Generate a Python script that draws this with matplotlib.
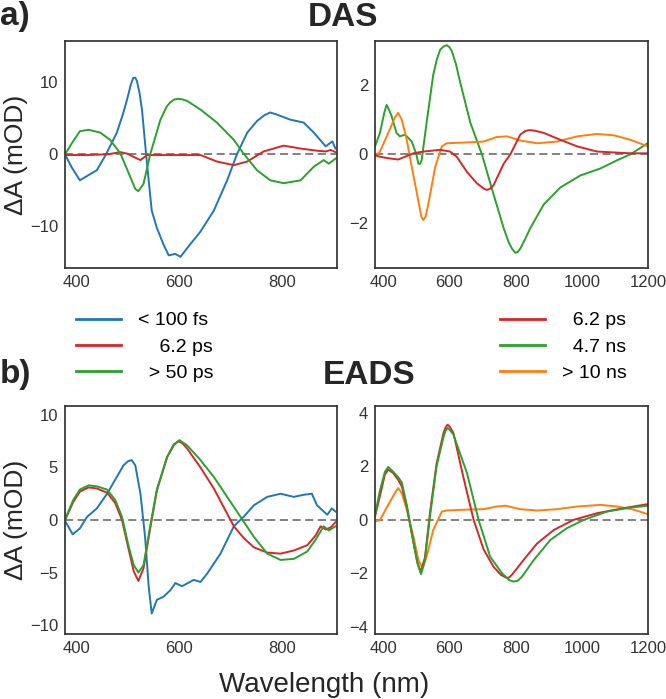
import matplotlib
matplotlib.use("Agg")
import matplotlib.pyplot as plt

plt.rcParams['font.family'] = ['Liberation Sans', 'DejaVu Sans']

BLUE = '#1f77b4'
RED = '#d62728'
GREEN = '#2ca02c'
ORANGE = '#ff7f0e'

# ---- a) DAS, visible range ----
das_fs_wl = [377, 390, 406, 420, 439, 457, 478, 490, 498, 505, 510, 514, 517, 522, 527, 535, 546,
             556, 569, 579, 592, 602, 615, 641, 667, 693, 712, 732, 751, 765, 777, 790, 816, 842,
             862, 885, 898, 904]
das_fs = [0.0, -1.8, -3.6, -3.0, -2.2, 0.0, 3.0, 5.6, 7.6, 9.6, 10.6, 10.6, 10.2, 8.6, 6.2, 0.0,
          -7.8, -10.2, -12.5, -14.0, -13.8, -14.2, -13.0, -10.7, -7.8, -3.6, 0.0, 3.0, 4.6, 5.4,
          5.8, 5.5, 4.8, 4.4, 3.0, 1.1, 1.8, 0.8]

das_ps_wl = [377, 420, 460, 485, 498, 512, 524, 537, 560, 600, 641, 673, 706, 732, 764, 803,
             836, 868, 885, 895, 904]
das_ps = [-0.1, -0.1, 0.0, 0.3, 0.1, -0.4, -0.8, -0.1, -0.1, -0.1, -0.1, -1.0, -1.5, -1.0, 0.4, 1.2,
          0.8, 0.5, 0.4, 0.6, 0.3]

das_50_wl = [377, 390, 406, 423, 446, 465, 485, 504, 514, 520, 530, 543, 563, 575, 582, 590, 598,
             606, 615, 641, 673, 706, 725, 751, 777, 803, 836, 862, 881, 891, 904]
das_50 = [0.0, 1.5, 3.2, 3.4, 3.0, 2.0, 0.1, -3.1, -4.8, -5.1, -4.1, 0.0, 4.8, 6.6, 7.2, 7.6, 7.7,
          7.6, 7.4, 6.2, 4.4, 2.0, 0.1, -2.2, -3.6, -4.0, -3.6, -1.7, -0.8, -1.3, -0.6]

# ---- a) DAS, extended range ----
dasx_ps_wl = [375, 390, 420, 445, 466, 491, 521, 572, 602, 622, 653, 683, 705, 713, 722, 733, 764,
              784, 814, 830, 844, 860, 885, 935, 986, 1046, 1147, 1200]
dasx_ps = [-0.02, -0.07, -0.12, -0.15, -0.07, 0.03, 0.08, 0.13, 0.08, -0.07, -0.51, -0.84, -1.0,
           -1.03, -1.0, -0.9, -0.27, 0.0, 0.57, 0.68, 0.7, 0.68, 0.62, 0.42, 0.23, 0.08, 0.03, 0.03]

dasx_ns_wl = [375, 390, 403, 410, 417, 425, 440, 450, 466, 486, 500, 506, 511, 516, 531, 551, 562,
              572, 582, 592, 600, 607, 620, 632, 663, 698, 733, 764, 779, 789, 799, 806, 814, 829,
              844, 885, 935, 996, 1056, 1107, 1147, 1200]
dasx_ns = [0.23, 0.62, 1.2, 1.43, 1.3, 1.11, 0.62, 0.52, 0.57, 0.37, 0.0, -0.27, -0.28, -0.17, 0.92,
           2.3, 2.75, 3.03, 3.12, 3.16, 3.1, 2.99, 2.6, 2.1, 0.92, 0.0, -1.15, -2.14, -2.55, -2.73,
           -2.85, -2.83, -2.73, -2.45, -2.14, -1.45, -0.96, -0.61, -0.41, -0.17, 0.0, 0.33]

dasx_10_wl = [375, 390, 415, 435, 445, 456, 471, 486, 506, 515, 521, 528, 536, 557, 577, 592, 642,
              703, 743, 774, 814, 865, 925, 986, 1046, 1097, 1147, 1200]
dasx_10 = [-0.07, 0.08, 0.62, 1.06, 1.2, 1.0, 0.42, -0.36, -1.35, -1.8, -1.9, -1.8, -1.45, -0.36,
           0.23, 0.32, 0.34, 0.37, 0.5, 0.52, 0.4, 0.32, 0.37, 0.52, 0.59, 0.55, 0.42, 0.23]

# ---- b) EADS, visible range ----
eads_fs_wl = [378, 392, 406, 420, 439, 459, 478, 491, 500, 507, 514, 524, 533, 540, 546, 556, 569,
              582, 592, 605, 628, 641, 654, 680, 706, 725, 745, 771, 797, 823, 842, 858, 868, 888,
              897, 904]
eads_fs = [-0.16, -1.37, -0.8, 0.3, 1.1, 2.5, 4.1, 5.2, 5.6, 5.7, 5.2, 2.5, -1.6, -6.3, -8.9, -7.6,
           -7.3, -6.7, -6.0, -6.3, -5.7, -5.9, -5.1, -3.2, -0.6, 0.3, 1.4, 2.2, 2.5, 2.2, 2.4, 2.5,
           1.4, 0.5, 1.1, 0.8]

eads_ps_wl = [378, 393, 406, 423, 439, 459, 475, 488, 501, 511, 520, 530, 543, 556, 576, 589, 598,
              606, 615, 641, 667, 693, 706, 725, 745, 771, 797, 823, 849, 865, 875, 885, 895, 904]
eads_ps = [0.1, 1.7, 2.7, 3.1, 3.0, 2.6, 1.6, 0.0, -2.8, -4.9, -5.8, -4.6, -0.8, 2.8, 6.0, 7.2, 7.5,
           7.3, 6.8, 5.0, 3.0, 0.6, -0.6, -1.7, -2.6, -3.1, -3.2, -2.9, -2.4, -1.5, -0.6, -0.9, -0.7,
           -0.2]

eads_50_wl = [378, 393, 406, 423, 439, 459, 475, 488, 501, 511, 520, 530, 543, 556, 576, 589, 600,
              615, 641, 667, 693, 719, 745, 771, 797, 823, 849, 865, 881, 891, 904]
eads_50 = [0.16, 1.9, 2.9, 3.3, 3.2, 2.9, 1.9, 0.3, -2.5, -4.3, -5.0, -4.3, -0.6, 2.9, 6.0, 7.1,
           7.6, 7.1, 5.7, 4.1, 2.2, 0.3, -1.6, -3.2, -3.8, -3.7, -3.0, -1.9, -0.6, -1.0, -0.6]

# ---- b) EADS, extended range ----
eadsx_ps_wl = [375, 390, 405, 415, 430, 445, 456, 471, 486, 503, 513, 526, 541, 561, 582, 588, 594,
               600, 612, 642, 673, 703, 733, 755, 769, 779, 789, 805, 824, 865, 915, 975, 1046, 1127,
               1200]
eadsx_ps = [0.12, 0.9, 1.7, 1.88, 1.75, 1.5, 1.25, 0.5, -0.5, -1.6, -1.95, -1.4, 0.25, 2.1, 3.25,
            3.45, 3.56, 3.5, 3.25, 1.6, 0.0, -1.1, -1.75, -2.05, -2.15, -2.17, -2.05, -1.8, -1.5,
            -0.88, -0.38, 0.0, 0.25, 0.44, 0.59]

eadsx_ns_wl = [375, 390, 405, 415, 430, 445, 456, 471, 486, 503, 514, 526, 541, 561, 582, 588, 594,
               600, 612, 653, 688, 723, 759, 780, 794, 806, 819, 855, 905, 955, 1006, 1076, 1147,
               1200]
eadsx_ns = [0.19, 1.1, 1.8, 1.98, 1.8, 1.6, 1.4, 0.56, -0.5, -1.6, -2.03, -1.5, 0.12, 2.0, 3.1,
            3.32, 3.44, 3.38, 3.19, 1.75, 0.0, -1.38, -2.0, -2.25, -2.31, -2.28, -2.13, -1.5, -0.75,
            -0.31, 0.0, 0.31, 0.46, 0.53]

eadsx_10_wl = [375, 390, 415, 435, 445, 456, 471, 491, 506, 519, 531, 551, 577, 592, 642, 703,
               743, 769, 814, 865, 925, 986, 1056, 1107, 1157, 1200]
eadsx_10 = [-0.06, 0.0, 0.56, 1.0, 1.19, 1.0, 0.38, -0.62, -1.5, -1.81, -1.38, -0.38, 0.31, 0.35,
            0.38, 0.4, 0.5, 0.53, 0.4, 0.35, 0.4, 0.5, 0.56, 0.5, 0.38, 0.21]

left_labels = ['< 100 fs', '    6.2 ps', '  > 50 ps']
right_labels = ['  6.2 ps', '  4.7 ns', '> 10 ns']

W, H = 666, 699
fig = plt.figure(figsize=(W / 100, H / 100), dpi=100)


def make_ax(x0, y0, x1, y1):
    ax = fig.add_axes([x0 / W, 1 - y1 / H, (x1 - x0) / W, (y1 - y0) / H])
    for s in ax.spines.values():
        s.set_color('#333333')
        s.set_linewidth(1.25)
    ax.tick_params(length=0, labelsize=12, labelcolor='#333333', pad=5)
    ax.axhline(0, color='#777777', lw=1.3, dashes=(4.5, 2.5), zorder=1)
    return ax


lw = 1.4
ax1 = make_ax(65, 41, 337, 268)
ax1.plot(das_fs_wl, das_fs, color=BLUE, lw=lw)
ax1.plot(das_ps_wl, das_ps, color=RED, lw=lw)
ax1.plot(das_50_wl, das_50, color=GREEN, lw=lw)
ax1.set_xlim(377, 907)
ax1.set_ylim(-15.75, 15.7)
ax1.set_xticks([400, 600, 800])
ax1.set_yticks([-10, 0, 10])

ax2 = make_ax(375, 41, 648, 268)
ax2.plot(dasx_ns_wl, dasx_ns, color=GREEN, lw=lw)
ax2.plot(dasx_10_wl, dasx_10, color=ORANGE, lw=lw)
ax2.plot(dasx_ps_wl, dasx_ps, color=RED, lw=lw)
ax2.set_xlim(375, 1200)
ax2.set_ylim(-3.29, 3.28)
ax2.set_xticks([400, 600, 800, 1000, 1200])
ax2.set_yticks([-2, 0, 2])

ax3 = make_ax(65, 406, 337, 634)
ax3.plot(eads_fs_wl, eads_fs, color=BLUE, lw=lw)
ax3.plot(eads_ps_wl, eads_ps, color=RED, lw=lw)
ax3.plot(eads_50_wl, eads_50, color=GREEN, lw=lw)
ax3.set_xlim(377, 907)
ax3.set_ylim(-10.85, 10.85)
ax3.set_xticks([400, 600, 800])
ax3.set_yticks([-10, -5, 0, 5, 10])

ax4 = make_ax(375, 406, 648, 634)
ax4.plot(eadsx_10_wl, eadsx_10, color=ORANGE, lw=lw)
ax4.plot(eadsx_ps_wl, eadsx_ps, color=RED, lw=lw)
ax4.plot(eadsx_ns_wl, eadsx_ns, color=GREEN, lw=lw)
ax4.set_xlim(375, 1200)
ax4.set_ylim(-4.27, 4.26)
ax4.set_xticks([400, 600, 800, 1000, 1200])
ax4.set_yticks([-4, -2, 0, 2, 4])

for ax in (ax1, ax3):
    ax.set_ylabel('ΔA (mOD)', fontsize=19, color='#262626')
    ax.yaxis.set_label_coords(-0.135, 0.5)

# legends between the rows
h_left = [plt.Line2D([], [], color=c, lw=2) for c in (BLUE, RED, GREEN)]
h_right = [plt.Line2D([], [], color=c, lw=2) for c in (RED, GREEN, ORANGE)]
leg_kw = dict(frameon=False, fontsize=14, handlelength=2.3, handletextpad=0.9,
              labelspacing=0.45, borderpad=0, borderaxespad=0, loc='center left')
fig.legend(h_left, left_labels, bbox_to_anchor=(76 / W, 1 - 347 / H), **leg_kw)
fig.legend(h_right, right_labels, bbox_to_anchor=(500 / W, 1 - 347 / H), **leg_kw)

tkw = dict(fontsize=24, fontweight='bold', color='#262626', va='center')
fig.text(0, 1 - 16 / H, 'a)', ha='left', **tkw)
fig.text(343 / W, 1 - 17 / H, 'DAS', ha='center', **tkw)
fig.text(0, 1 - 375 / H, 'b)', ha='left', **tkw)
fig.text(369 / W, 1 - 375 / H, 'EADS', ha='center', **tkw)
fig.text(324 / W, 1 - 685 / H, 'Wavelength (nm)', ha='center', va='center',
         fontsize=20, color='#262626')

fig.savefig('out.png', dpi=100)
